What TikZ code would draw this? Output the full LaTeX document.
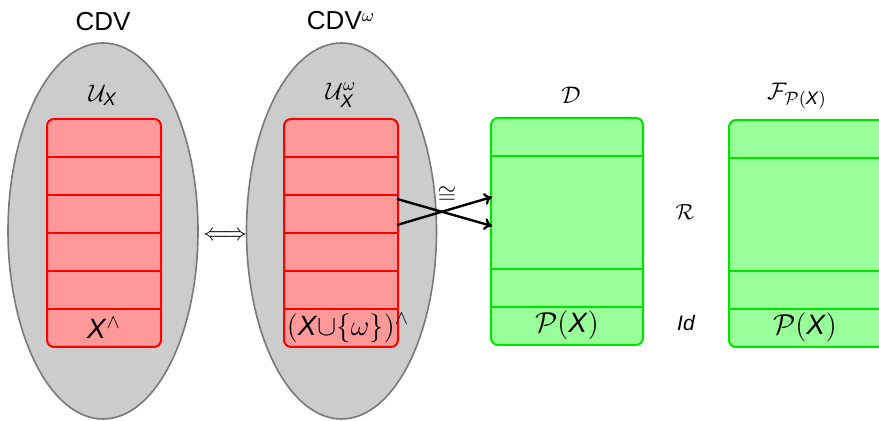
\documentclass[tikz,border=0pt]{standalone}
\usepackage{amsmath}
\usepackage{fontspec}
\setsansfont{Liberation Sans}
\usetikzlibrary{arrows.meta,shapes.geometric}
\newcommand{\sX}{\textsf{\itshape X}}
\begin{document}
\begin{tikzpicture}[x=0.5pt,y=-0.5pt,
  blob/.style={draw=gray!95!black,fill=black!20,line width=0.8pt},
  redbox/.style={draw=red,fill=red!40,line width=1pt,rounded corners=3.5pt},
  greenbox/.style={draw=green!90!black,fill=green!40,line width=1pt,rounded corners=3.5pt},
  redline/.style={draw=red,line width=1pt},
  greenline/.style={draw=green!90!black,line width=1pt},
  ttl/.style={font=\fontsize{13}{15}\selectfont\sffamily},
  lbl/.style={font=\fontsize{13}{15}\selectfont},
  big/.style={font=\fontsize{14}{16}\selectfont},
  small/.style={font=\fontsize{10.5}{12}\selectfont},
  arr/.style={-{To[length=4pt,width=6pt]},line width=1.2pt}]
\useasboundingbox (0,0) rectangle (879,421);
\begin{scope}
\clip (0,0) rectangle (879,421);
% ellipses
\node[blob,ellipse,minimum width=95pt,minimum height=188pt,inner sep=0] (e1) at (103,231) {};
\node[blob,ellipse,minimum width=95pt,minimum height=188pt,inner sep=0] (e2) at (341.5,231) {};
% red boxes
\draw[redbox] (47,119) rectangle (161,347);
\foreach \y in {157,195,233,271,309} \draw[redline] (47,\y) -- (161,\y);
\draw[redbox] (284,119) rectangle (398,347);
\foreach \y in {157,195,233,271,309} \draw[redline] (284,\y) -- (398,\y);
\coordinate (a1) at (397,199);
\coordinate (a2) at (397,225);
% green boxes
\draw[greenbox] (491,118) rectangle (643,345);
\foreach \y in {156,269,307} \draw[greenline] (491,\y) -- (643,\y);
\coordinate (b1) at (492,226);
\coordinate (b2) at (492,197);
\draw[greenbox] (729,120) rectangle (900,347);
\foreach \y in {158,271,309} \draw[greenline] (729,\y) -- (900,\y);
\end{scope}
% labels
\node[ttl] (t1) at (103,22) {CDV};
\node[ttl] (t2) at (341,21) {CDV$^\omega$};
\node[lbl] (u1) at (103,95) {$\mathcal{U}_{\text{\sX}}$};
\node[lbl] (u2) at (341,95) {$\mathcal{U}^\omega_{\text{\sX}}$};
\node[big] (x1) at (104,328) {\sX$^\wedge$};
\node[big] (x2) at (348,328) {$($\sX$\cup\{\omega\})^\wedge$};
\node[lbl] (iff) at (225,236) {$\Longleftrightarrow$};
\node[lbl,inner sep=1pt] (iso) at (447,195) {$\cong$};
\node[lbl] (d) at (571,95) {$\mathcal{D}$};
\node[lbl] (f) at (797,96) {$\mathcal{F}_{\mathcal{P}(\text{\sX})}$};
\node[big] (p1) at (567,325) {$\mathcal{P}($\sX$)$};
\node[big] (p2) at (805,327) {$\mathcal{P}($\sX$)$};
\node[small] (rr) at (685,212) {$\mathcal{R}$};
\node[small] (id) at (686,323) {\sffamily\itshape Id};
% arrows
\draw[arr] (a1) -- (b1);
\draw[arr] (a2) -- (b2);
\end{tikzpicture}
\end{document}
